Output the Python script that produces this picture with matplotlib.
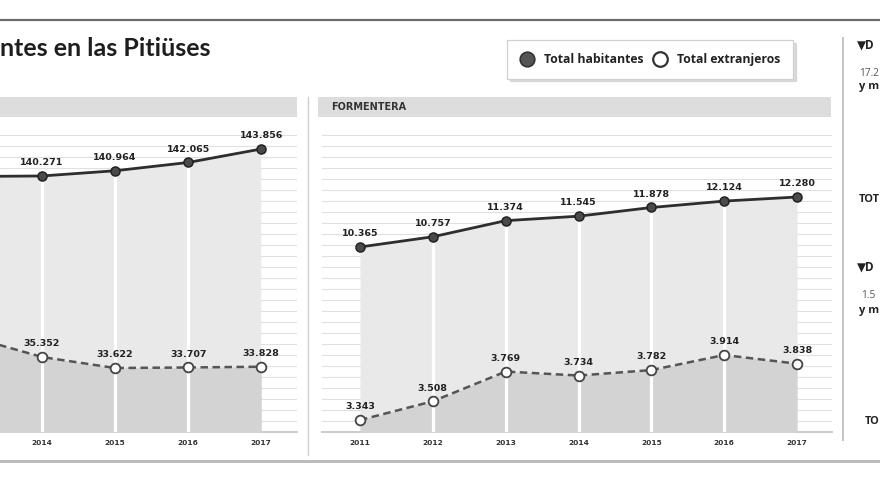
import numpy as np
import matplotlib
matplotlib.use("Agg")
import matplotlib.pyplot as plt
from matplotlib.lines import Line2D
from matplotlib.patches import Rectangle

# Ibiza panel is cut off on the left; 2013 is estimated from the line leaving the frame
years_ibiza = [2013, 2014, 2015, 2016, 2017]
habitantes_ibiza = [140200, 140271, 140964, 142065, 143856]
extranjeros_ibiza = [38600, 35352, 33622, 33707, 33828]

years_form = [2011, 2012, 2013, 2014, 2015, 2016, 2017]
habitantes_form = [10365, 10757, 11374, 11545, 11878, 12124, 12280]
extranjeros_form = [3343, 3508, 3769, 3734, 3782, 3914, 3838]

legend_labels = ["Total habitantes", "Total extranjeros"]
title_text = "ntes en las Pitiüses"
panel_names = ["", "FORMENTERA"]
side_texts = ["▼D", "17.2", "y m", "TOT", "▼D", "1.5", "y m", "TO"]

W, H = 880, 495
FILL_TOP = "#e9e9e9"
FILL_LOW = "#d3d3d3"
LINE_DARK = "#2e2e2e"
DASH_GREY = "#555555"
SANS = ["Open Sans", "DejaVu Sans"]
NARROW = ["Liberation Sans Narrow", "DejaVu Sans"]

plt.rcParams["font.family"] = SANS


def fx(px):
    return px / W


def fy(py):
    return 1 - py / H


def miles(v):
    return f"{v:,}".replace(",", ".")


fig = plt.figure(figsize=(W / 100, H / 100), dpi=100)


def draw_panel(box, years, hab, ext, xlim, ylim_hab, ylim_ext):
    left, top, right, bottom = box
    ax = fig.add_axes([fx(left), fy(bottom), (right - left) / W, (bottom - top) / H])
    ax2 = ax.twinx()
    for a in (ax, ax2):
        for s in a.spines.values():
            s.set_visible(False)
        a.set_yticks([])
    ax.spines["bottom"].set_visible(True)
    ax.spines["bottom"].set_color("#c6c6c6")
    ax.spines["bottom"].set_linewidth(1.3)

    # faint horizontal rules behind the areas
    for g in np.arange(11, bottom - top - 4, 11) / (bottom - top):
        ax.plot([0, 1], [g, g], transform=ax.transAxes, color="#e0e0e0",
                lw=0.8, zorder=0.5)

    ax.fill_between(years, hab, 0, color=FILL_TOP, lw=0, zorder=1)
    ax.vlines(years[1:-1], 0, hab[1:-1], color="white", lw=2.3, zorder=2)
    ax.plot(years, hab, color=LINE_DARK, lw=2.0, marker="o", ms=6.5,
            mfc="#4a4a4a", mec="#222222", mew=1.1, zorder=4)

    ax2.fill_between(years, ext, 0, color=FILL_LOW, lw=0, zorder=1)
    ax2.vlines(years[1:-1], 0, ext[1:-1], color="white", lw=2.3, zorder=2)
    ax2.plot(years, ext, color=DASH_GREY, lw=1.8, ls=(0, (3, 1.8)), marker="o",
             ms=7, mfc="white", mec="#444444", mew=1.3, zorder=4)

    ax.set_xticks(years)
    ax.set_xticklabels([str(y) for y in years], fontsize=5.4, fontweight="bold",
                       color="#333333", family=NARROW)
    ax.tick_params(axis="x", length=0, pad=6)
    # limits after the ticks, so the ticks do not widen the view
    ax.set_xlim(xlim)
    ax.set_ylim(ylim_hab)
    ax2.set_ylim(ylim_ext)

    for a, vals in ((ax, hab), (ax2, ext)):
        for x, v in zip(years, vals):
            if xlim[0] <= x <= xlim[1]:
                a.annotate(miles(v), (x, v), xytext=(0, 9.5),
                           textcoords="offset points", ha="center", va="center",
                           fontsize=6.8, fontweight="bold", color="#222222",
                           family=NARROW, zorder=5)
    return ax


draw_panel((0, 128, 297, 432), years_ibiza, habitantes_ibiza, extranjeros_ibiza,
           (2013.425, 2017.49), (106223, 146649), (23577, 71305))
draw_panel((322, 128, 832, 432), years_form, habitantes_form, extranjeros_form,
           (2010.478, 2017.48), (3279, 14923), (3238, 5908))

# panel header bars
for (x0, x1), name in zip([(0, 297), (318, 831)], panel_names):
    fig.add_artist(Rectangle((fx(x0), fy(117)), (x1 - x0) / W, 20 / H,
                             transform=fig.transFigure, color="#dddddd", lw=0))
    if name:
        fig.text(fx(x0 + 13), fy(107), name, fontsize=7, fontweight="bold",
                 color="#333333", va="center", family=NARROW)

# frame lines
fig.add_artist(Line2D([0, 1], [fy(20), fy(20)], color="#6a6a6a", lw=1.6))
fig.add_artist(Line2D([0, 1], [fy(461), fy(461)], color="#b8b8b8", lw=2.0))
fig.add_artist(Line2D([fx(308), fx(308)], [fy(97), fy(455)], color="#d0d0d0", lw=1.0))
fig.add_artist(Line2D([fx(843), fx(843)], [fy(38), fy(440)], color="#c4c4c4", lw=1.4))

fig.text(fx(0), fy(49), title_text, fontsize=18, fontweight="bold",
         color="#1e1e1e", va="center", family=["Lato", "DejaVu Sans"])

# legend
handles = [
    Line2D([], [], ls="none", marker="o", ms=10.5, mfc="#555555", mec="#333333", mew=1.2),
    Line2D([], [], ls="none", marker="o", ms=10.5, mfc="white", mec="#333333", mew=1.6),
]
leg = fig.legend(handles, legend_labels, loc="upper left", ncol=2,
                 bbox_to_anchor=(fx(507), fy(40)), borderaxespad=0,
                 fontsize=8.8, frameon=True, fancybox=False,
                 shadow={"color": "#cccccc", "alpha": 0.7},
                 borderpad=1.05, handletextpad=0.75, columnspacing=0.7,
                 handlelength=1.25, edgecolor="#d0d0d0")
for t in leg.get_texts():
    t.set_fontweight("bold")
    t.set_color("#222222")
leg.get_frame().set_linewidth(0.9)

# cut-off side column on the right
side_pos = [(857, 45, "bold", "#222222", 8.5), (859, 73, "normal", "#555555", 7.3),
            (859, 86, "bold", "#222222", 8), (859, 200, "bold", "#222222", 8),
            (857, 267, "bold", "#222222", 8.5), (861, 296, "normal", "#555555", 7.3),
            (859, 310, "bold", "#222222", 8), (865, 422, "bold", "#222222", 7.8)]
for (x, y, w, c, fs), s in zip(side_pos, side_texts):
    fig.text(fx(x), fy(y), s, fontsize=fs, fontweight=w, color=c, va="center",
             family=SANS)

fig.savefig("out.png", dpi=100)
